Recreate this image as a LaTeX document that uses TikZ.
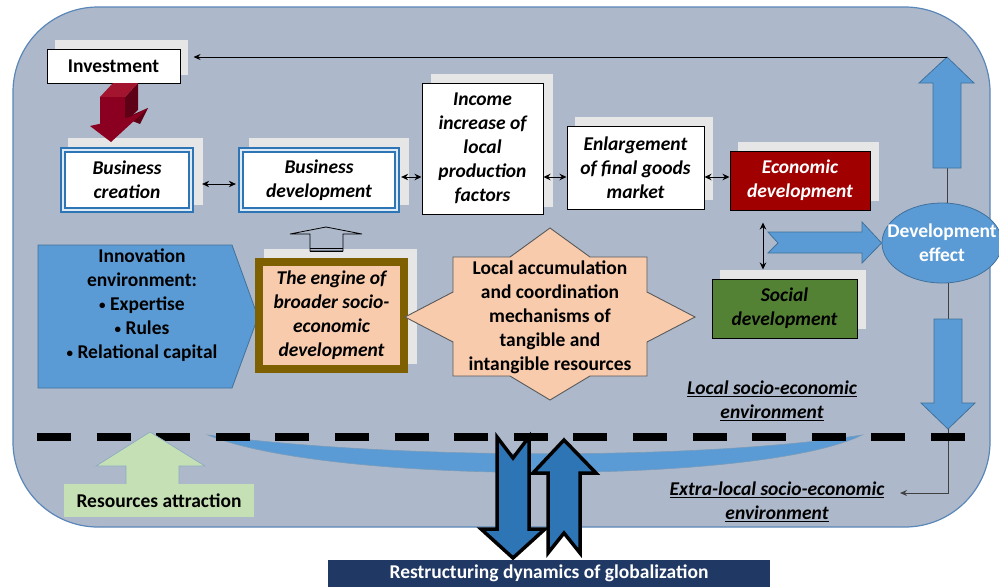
\documentclass[tikz,border=0pt]{standalone}
\usepackage{fontspec}
\setmainfont{Carlito}
\usetikzlibrary{shapes.geometric,arrows.meta,calc}
\definecolor{bg}{HTML}{ADB9CA}
\definecolor{bgline}{HTML}{5A86B8}
\definecolor{mblue}{HTML}{5B9BD5}
\definecolor{mblueline}{HTML}{41719C}
\definecolor{dblue}{HTML}{2E75B6}
\definecolor{lblue}{HTML}{DEEBF7}
\definecolor{peach}{HTML}{F8CBAD}
\definecolor{brownb}{HTML}{7F6000}
\definecolor{ecored}{HTML}{A00000}
\definecolor{arrred}{HTML}{8B0021}
\definecolor{arrdark}{HTML}{5E0016}
\definecolor{arrtop}{HTML}{A3142F}
\definecolor{socgreen}{HTML}{548235}
\definecolor{lgreen}{HTML}{C5E0B4}
\definecolor{navy}{HTML}{203864}
\definecolor{shadowgray}{HTML}{E7E6E6}
\definecolor{conn}{HTML}{404040}
\newcommand{\smbul}{{\fontsize{13}{24}\selectfont\raisebox{1pt}{•}}}
\tikzset{
  txt/.style={font=\fontsize{19.5}{24}\selectfont\bfseries, align=center, inner sep=0pt},
  itxt/.style={font=\fontsize{19.5}{24}\selectfont\bfseries\itshape, align=center, inner sep=0pt},
  whitebox/.style={draw=black, line width=1pt, fill=white},
  bizbox/.style={itxt, fill=white, draw=dblue, line width=2.3pt, double=lblue, double distance=2pt},
  dbl/.style={{Stealth[length=7pt,width=6.5pt]}-{Stealth[length=7pt,width=6.5pt]}, line width=1pt},
  arr/.style={-{Stealth[length=7pt,width=6pt]}, line width=1pt},
  bluearrow/.style={fill=mblue, draw=mblueline, line width=0.8pt},
  darkarrow/.style={fill=dblue, draw=black, line width=3.5pt, line join=miter},
}
\begin{document}
\begin{tikzpicture}[x=1pt,y=-1pt]
\useasboundingbox (0,0) rectangle (999,587);
% background
\draw[fill=bg, draw=bgline, line width=1.2pt, rounded corners=85pt] (13,7) rectangle (990,527);

% shadows
\fill[shadowgray] (55,40) rectangle (188,75);
\fill[shadowgray] (68,138) rectangle (203,205);
\fill[shadowgray] (249,138) rectangle (409,205);
\fill[shadowgray] (431,74) rectangle (553,207);
\fill[shadowgray] (575,117) rectangle (713,200);
\fill[shadowgray] (738,142) rectangle (879,201);
\fill[shadowgray] (720,270) rectangle (866,329);
\fill[shadowgray] (264,249) rectangle (417,364);

% top boxes
\node[whitebox, txt, minimum width=133pt, minimum height=34pt] (inv) at (113.5,66) {Investment};
\node[bizbox, minimum width=128pt, minimum height=60pt] (bc) at (127,180) {Business\\creation};
\node[bizbox, minimum width=156pt, minimum height=60pt] (bd) at (319,180) {Business\\development};
\node[whitebox, itxt, minimum width=121pt, minimum height=131pt] (inc) at (482.5,148.5) {Income\\increase of\\local\\production\\factors};
\node[whitebox, itxt, minimum width=137pt, minimum height=83pt] (enl) at (635.5,167.5) {Enlargement\\of final goods\\market};
\node[whitebox, itxt, fill=ecored, text=white, minimum width=140pt, minimum height=59pt] (eco) at (800,180.5) {Economic\\development};
\node[whitebox, itxt, fill=socgreen, minimum width=145pt, minimum height=59pt] (soc) at (784.5,308.5) {Social\\development};

% red 3D arrow from investment
\fill[arrdark] (125,97) -- (138,83) -- (138,110) -- (125,122) -- cycle;
\fill[arrtop] (100,97) -- (113,83) -- (138,83) -- (125,97) -- cycle;
\fill[arrred] (100,97) rectangle (125,126);
\fill[arrdark] (125,118) -- (148,108) -- (140,124) -- cycle;
\fill[arrred] (90,126) -- (130,117) -- (148,108) -- (111,142) -- cycle;

% horizontal connectors
\coordinate (y177) at (0,177);
\coordinate (y184) at (0,184);
\draw[dbl] ($(bc.east |- y184)+(10,0)$) -- ($(bd.west |- y184)+(-4,0)$);
\draw[dbl] ($(bd.east |- y177)+(3,0)$) -- (inc.west |- y177);
\draw[dbl] (inc.east |- y177) -- (enl.west |- y177);
\draw[dbl] (enl.east |- y177) -- (eco.west |- y177);
\coordinate (x763) at (763,0);
\draw[dbl] ($(eco.south -| x763)+(0,12)$) -- ($(soc.north -| x763)+(0,-9)$);

% innovation environment
\draw[fill=mblue, draw=mblueline, line width=0.8pt] (38,245) -- (232,245) -- (258,317) -- (232,388) -- (38,388) -- cycle;
\node[txt] (innov) at (142,305) {Innovation\\environment:\\\smbul{} Expertise\\\smbul{} Rules\\\smbul{} Relational capital};

% engine
\node[itxt, draw=brownb, line width=8pt, fill=peach, minimum width=145pt, minimum height=107pt] (eng) at (331.5,315.5) {The engine of\\broader socio-\\economic\\development};

% hollow up arrow
\draw[line width=0.8pt, fill=bg] (310,251) -- (310,234) -- (290,234) -- (326,227) -- (362,234) -- (343,234) -- (343,251) -- cycle;
\draw[line width=1pt] (310,248.5) -- (343,248.5);
\draw[line width=1pt] (310,251) -- (343,251);

% star shape
\draw[fill=peach, draw=black!65, line width=0.9pt] (453,257) -- (510,257) -- (550,228) -- (590,257) -- (647,257) -- (647,292) -- (695,317) -- (647,342) -- (647,376) -- (590,376) -- (550,400) -- (510,376) -- (453,376) -- (453,342) -- (405,317) -- (453,292) -- cycle;
\node[txt] (star) at (550,317) {Local accumulation\\and coordination\\mechanisms of\\tangible and\\intangible resources};

% development effect
\node[ellipse, fill=mblue, draw=mblueline, line width=0.8pt, minimum width=120pt, minimum height=80pt, inner sep=0pt] (eff) at (942,243) {};
\node[txt, text=white] (efftxt) at (eff.center) {Development\\effect};

% notched arrow to development effect
\draw[bluearrow] (768,232) -- (778,243) -- (768,253) -- (862,253) -- (862,263) -- (eff.west) -- (862,222) -- (862,232) -- cycle;

% up arrow to investment
\coordinate (uptip) at (947,57);
\coordinate (upbot) at (947,168);
\draw[conn, line width=1pt] (eff.north -| upbot) -- (upbot);
\draw[bluearrow] (933,168) -- (933,83) -- (919,83) -- (uptip) -- (974,83) -- (961,83) -- (961,168) -- cycle;
\draw[arr] (uptip) -- ($(inv.east |- uptip)+(13,0)$);

% down arrow
\coordinate (dntop) at (948,319);
\coordinate (dntip) at (948,429);
\draw[conn, line width=1pt] (eff.south -| dntop) -- (dntop);
\draw[bluearrow] (934,319) -- (962,319) -- (962,403) -- (975,403) -- (dntip) -- (921,403) -- (934,403) -- cycle;

% labels
\node[itxt] (loc) at (772,400.5) {\underline{Local socio-economic}\\\underline{environment}};
\node[itxt] (ext) at (777,502) {\underline{Extra-local socio-economic}\\\underline{environment}};
\coordinate (corner) at (948,493);
\draw[conn, arr] (dntip) -- (corner) -- (900,493);

% crescent
\draw[fill=mblue, draw=mblueline!70, line width=0.6pt] (208,435) .. controls (400,460) and (700,460) .. (862,435) .. controls (760,485) and (330,485) .. (208,435) -- cycle;

% dashed boundary
\draw[line width=8pt, dash pattern=on 34pt off 25.6pt] (37,437) -- (970,437);

% resources attraction
\draw[fill=lgreen, draw=mblueline!60, line width=0.7pt] (126,484) -- (126,466) -- (96,466) -- (150,432) -- (205,466) -- (179,466) -- (179,484);
\node[txt, fill=lgreen, minimum width=190pt, minimum height=33pt] (ra) at (159,500.5) {Resources attraction};

% globalization
\node[txt, fill=navy, text=white, minimum width=442pt, minimum height=27pt] (glob) at (549,573.5) {Restructuring dynamics of globalization};
\draw[darkarrow] (497,437) -- (513,458) -- (529,437) -- (529,529) -- (545,529) -- (513,558) -- (481,529) -- (497,529) -- cycle;
\draw[darkarrow] (548,553) -- (548,473) -- (533,473) -- (564,440) -- (596,473) -- (580,473) -- (580,553) -- (564,533) -- cycle;
\end{tikzpicture}
\end{document}
